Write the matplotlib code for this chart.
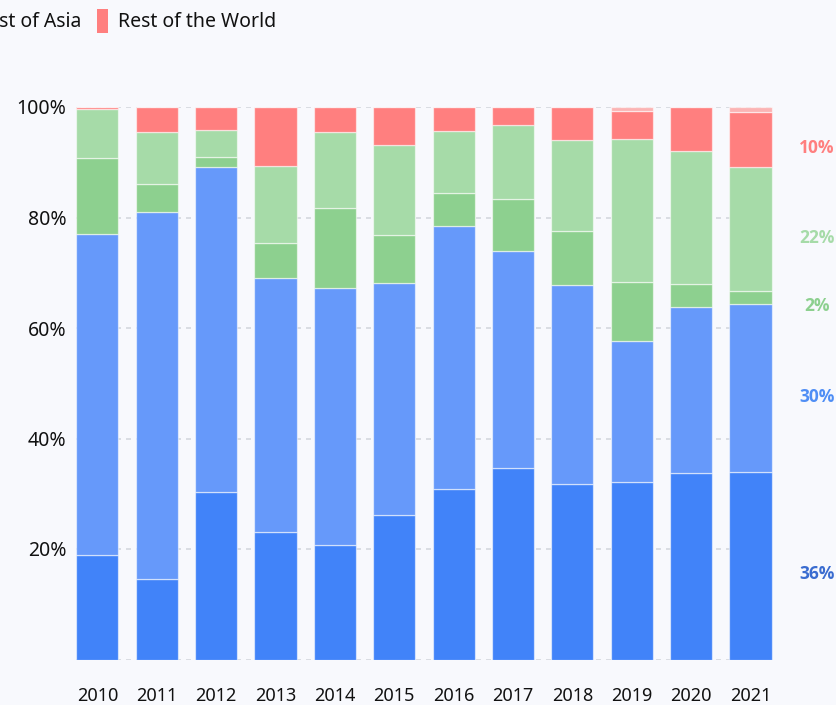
import matplotlib.pyplot as plt
from matplotlib.patches import Rectangle
import numpy as np

## data (share of total, %)
years = ['2010', '2011', '2012', '2013', '2014', '2015',
         '2016', '2017', '2018', '2019', '2020', '2021']
seg_dark_blue = [19.0, 14.5, 30.4, 23.0, 20.8, 26.1, 30.8, 34.6, 31.7, 32.1, 33.8, 34.0]
seg_light_blue = [58.0, 66.5, 58.7, 46.0, 46.4, 42.0, 47.6, 39.3, 36.1, 25.6, 30.0, 30.4]
seg_mid_green = [13.8, 5.1, 1.8, 6.4, 14.6, 8.8, 6.1, 9.4, 9.8, 10.6, 4.2, 2.3]
seg_rest_asia = [8.9, 9.3, 5.0, 14.0, 13.6, 16.3, 11.1, 13.4, 16.4, 25.9, 24.0, 22.4]
seg_rest_world = [0.3, 4.6, 4.1, 10.6, 4.6, 6.8, 4.4, 3.3, 6.0, 5.1, 8.0, 10.0]
seg_other = [0.0, 0.0, 0.0, 0.0, 0.0, 0.0, 0.0, 0.0, 0.0, 0.7, 0.0, 0.9]

right_labels = ['36%', '30%', '2%', '22%', '10%']

## colours
bg = '#f8f9fd'
colors = ['#4183f9', '#6699fa', '#8dd08f', '#a6dba8', '#ff7f7f', '#fbb4b4']
label_colors = ['#3a6cd0', '#4f8ef5', '#8dd08f', '#a6dba8', '#ff7f7f']

plt.rcParams['font.family'] = ['Noto Sans', 'DejaVu Sans']

fig = plt.figure(figsize=(8.36, 7.05), dpi=100, facecolor=bg)
ax = fig.add_axes([76 / 836, 45.5 / 705, 697 / 836, 552.5 / 705], facecolor=bg)

x = np.arange(len(years))
series = [seg_dark_blue, seg_light_blue, seg_mid_green, seg_rest_asia, seg_rest_world, seg_other]
bottom = np.zeros(len(years))
for vals, col in zip(series, colors):
	vals = np.array(vals)
	ax.bar(x, vals, bottom=bottom, width=0.71, color=col,
	       edgecolor=(1, 1, 1, 0.55), linewidth=0.9, zorder=3)
	bottom += vals

## axes
ax.set_xlim(-0.36, 11.38)
ax.set_ylim(0, 100)
ax.set_yticks([20, 40, 60, 80, 100])
ax.set_yticklabels(['20%', '40%', '60%', '80%', '100%'])
ax.set_xticks(x)
ax.set_xticklabels(years)
ax.tick_params(axis='y', length=0, pad=7, labelsize=14, labelcolor='#111111')
ax.tick_params(axis='x', length=0, pad=20, labelsize=13, labelcolor='#111111')
for s in ax.spines.values():
	s.set_visible(False)

## grids
for yv in [0, 20, 40, 60, 80, 100]:
	ax.axhline(yv, color='#d5d8de', linestyle=(0, (3, 3)), linewidth=1.2, zorder=1)

## right-hand labels for 2021
last = [s[-1] for s in series[:5]]
cum = np.cumsum([0] + last)
for i, lab in enumerate(right_labels):
	mid = (cum[i] + cum[i + 1]) / 2 - 1.6
	ax.text(12.12, mid, lab, color=label_colors[i], fontsize=12.5, fontweight='bold',
	        family=['Open Sans', 'DejaVu Sans'], ha='center', va='center', clip_on=False)

## legend (cut off at left edge)
fig.text(81 / 836, 1 - 22 / 705, 'Rest of Asia', ha='right', va='center',
         fontsize=14, color='#111111')
fig.patches.append(Rectangle((97 / 836, 1 - 33 / 705), 11 / 836, 24 / 705,
                             transform=fig.transFigure, facecolor='#ff7f7f',
                             edgecolor='none'))
fig.text(118 / 836, 1 - 22 / 705, 'Rest of the World', ha='left', va='center',
         fontsize=14, color='#111111')

fig.savefig('out.png', dpi=100, facecolor=bg)
